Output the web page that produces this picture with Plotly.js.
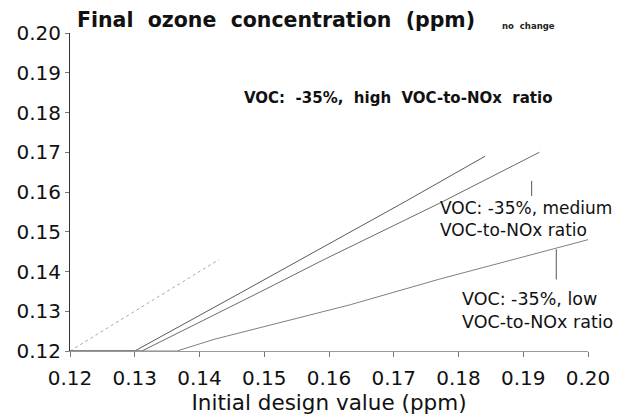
<!DOCTYPE html>
<html>
<head>
<meta charset="utf-8">
<script src="https://cdn.plot.ly/plotly-3.0.1.min.js"></script>
<style>html,body{margin:0;padding:0;background:#fff;}</style>
</head>
<body>
<div id="chart" style="width:622px;height:417px;"></div>
<script>
// Axis ticks
var tickValues = [0.12, 0.13, 0.14, 0.15, 0.16, 0.17, 0.18, 0.19, 0.20];
var tickLabels = ["0.12", "0.13", "0.14", "0.15", "0.16", "0.17", "0.18", "0.19", "0.20"];

// No change (1:1) line, visible part
var noChangeX = [0.12, 0.143];
var noChangeY = [0.12, 0.143];

// VOC -35%, high VOC-to-NOx ratio
var highX = [0.12, 0.13, 0.1463, 0.1552, 0.1636, 0.1720, 0.1841];
var highY = [0.12, 0.12, 0.1346, 0.1426, 0.1502, 0.1578, 0.1690];

// VOC -35%, medium VOC-to-NOx ratio
var mediumX = [0.12, 0.1311, 0.1493, 0.1591, 0.1771, 0.1925];
var mediumY = [0.12, 0.12, 0.1348, 0.1429, 0.1572, 0.1700];

// VOC -35%, low VOC-to-NOx ratio
var lowX = [0.12, 0.1365, 0.1424, 0.1493, 0.1632, 0.1771, 0.200];
var lowY = [0.12, 0.12, 0.1230, 0.1258, 0.1316, 0.1381, 0.1480];

var traces = [
  {x: noChangeX, y: noChangeY, mode: 'lines', line: {color: '#aaaaaa', width: 1, dash: 'dot'}, hoverinfo: 'skip'},
  {x: highX, y: highY, mode: 'lines', line: {color: '#5a5a5a', width: 1}, hoverinfo: 'skip'},
  {x: mediumX, y: mediumY, mode: 'lines', line: {color: '#6a6a6a', width: 1}, hoverinfo: 'skip'},
  {x: lowX, y: lowY, mode: 'lines', line: {color: '#808080', width: 1}, hoverinfo: 'skip'}
];

var F = 'DejaVu Sans, Arial, sans-serif';
var nb = '\u00a0';

var layout = {
  width: 622, height: 417,
  margin: {l: 70, r: 34, t: 33, b: 66, pad: 0},
  paper_bgcolor: '#fff', plot_bgcolor: '#fff',
  showlegend: false,
  xaxis: {
    range: [0.12, 0.20], tickvals: tickValues, ticktext: tickLabels,
    showgrid: false, zeroline: false, showline: true, linecolor: '#999', linewidth: 1,
    ticks: 'outside', ticklen: 5, tickcolor: '#777',
    ticklabelstandoff: 4,
    tickfont: {family: F, size: 20, color: '#111'},
    title: {text: 'Initial design value (ppm)', font: {family: F, size: 21.5, color: '#111'}, standoff: 4}
  },
  yaxis: {
    range: [0.12, 0.20], tickvals: tickValues, ticktext: tickLabels,
    showgrid: false, zeroline: false, showline: true, linecolor: '#333', linewidth: 1,
    ticks: 'outside', ticklen: 4, tickcolor: '#777',
    tickfont: {family: F, size: 20, color: '#111'}
  },
  shapes: [
    {type: 'line', xref: 'x', yref: 'y', x0: 0.1913, x1: 0.1913, y0: 0.1628, y1: 0.1590, line: {color: '#555', width: 1}},
    {type: 'line', xref: 'x', yref: 'y', x0: 0.1951, x1: 0.1951, y0: 0.1456, y1: 0.1380, line: {color: '#555', width: 1}}
  ],
  annotations: [
    {xref: 'paper', yref: 'paper', x: 0.0097, y: 1.041, xanchor: 'left', yanchor: 'middle', showarrow: false,
     text: '<b>Final' + nb + nb + 'ozone' + nb + nb + 'concentration' + nb + nb + '(ppm)</b>', font: {family: F, size: 20.5, color: '#111'}},
    {xref: 'paper', yref: 'paper', x: 0.885, y: 1.022, xanchor: 'center', yanchor: 'middle', showarrow: false,
     text: '<b>no' + nb + nb + 'change</b>', font: {family: F, size: 8.5, color: '#222'}},
    {xref: 'x', yref: 'y', x: 0.1707, y: 0.1837, xanchor: 'center', yanchor: 'middle', showarrow: false,
     text: '<b>VOC:' + nb + nb + '-35%,' + nb + nb + 'high' + nb + nb + 'VOC-to-NOx' + nb + nb + 'ratio</b>', font: {family: F, size: 15, color: '#111'}},
    {xref: 'x', yref: 'y', x: 0.1768, y: 0.1532, xanchor: 'left', yanchor: 'middle', align: 'left', showarrow: false,
     text: 'VOC: -35%, medium<br>VOC-to-NOx ratio', font: {family: F, size: 17, color: '#111'}},
    {xref: 'x', yref: 'y', x: 0.1802, y: 0.1302, xanchor: 'left', yanchor: 'middle', align: 'left', showarrow: false,
     text: 'VOC: -35%, low<br>VOC-to-NOx ratio', font: {family: F, size: 17.5, color: '#111'}}
  ]
};

Plotly.newPlot('chart', traces, layout, {staticPlot: true, displayModeBar: false});
</script>
</body>
</html>
